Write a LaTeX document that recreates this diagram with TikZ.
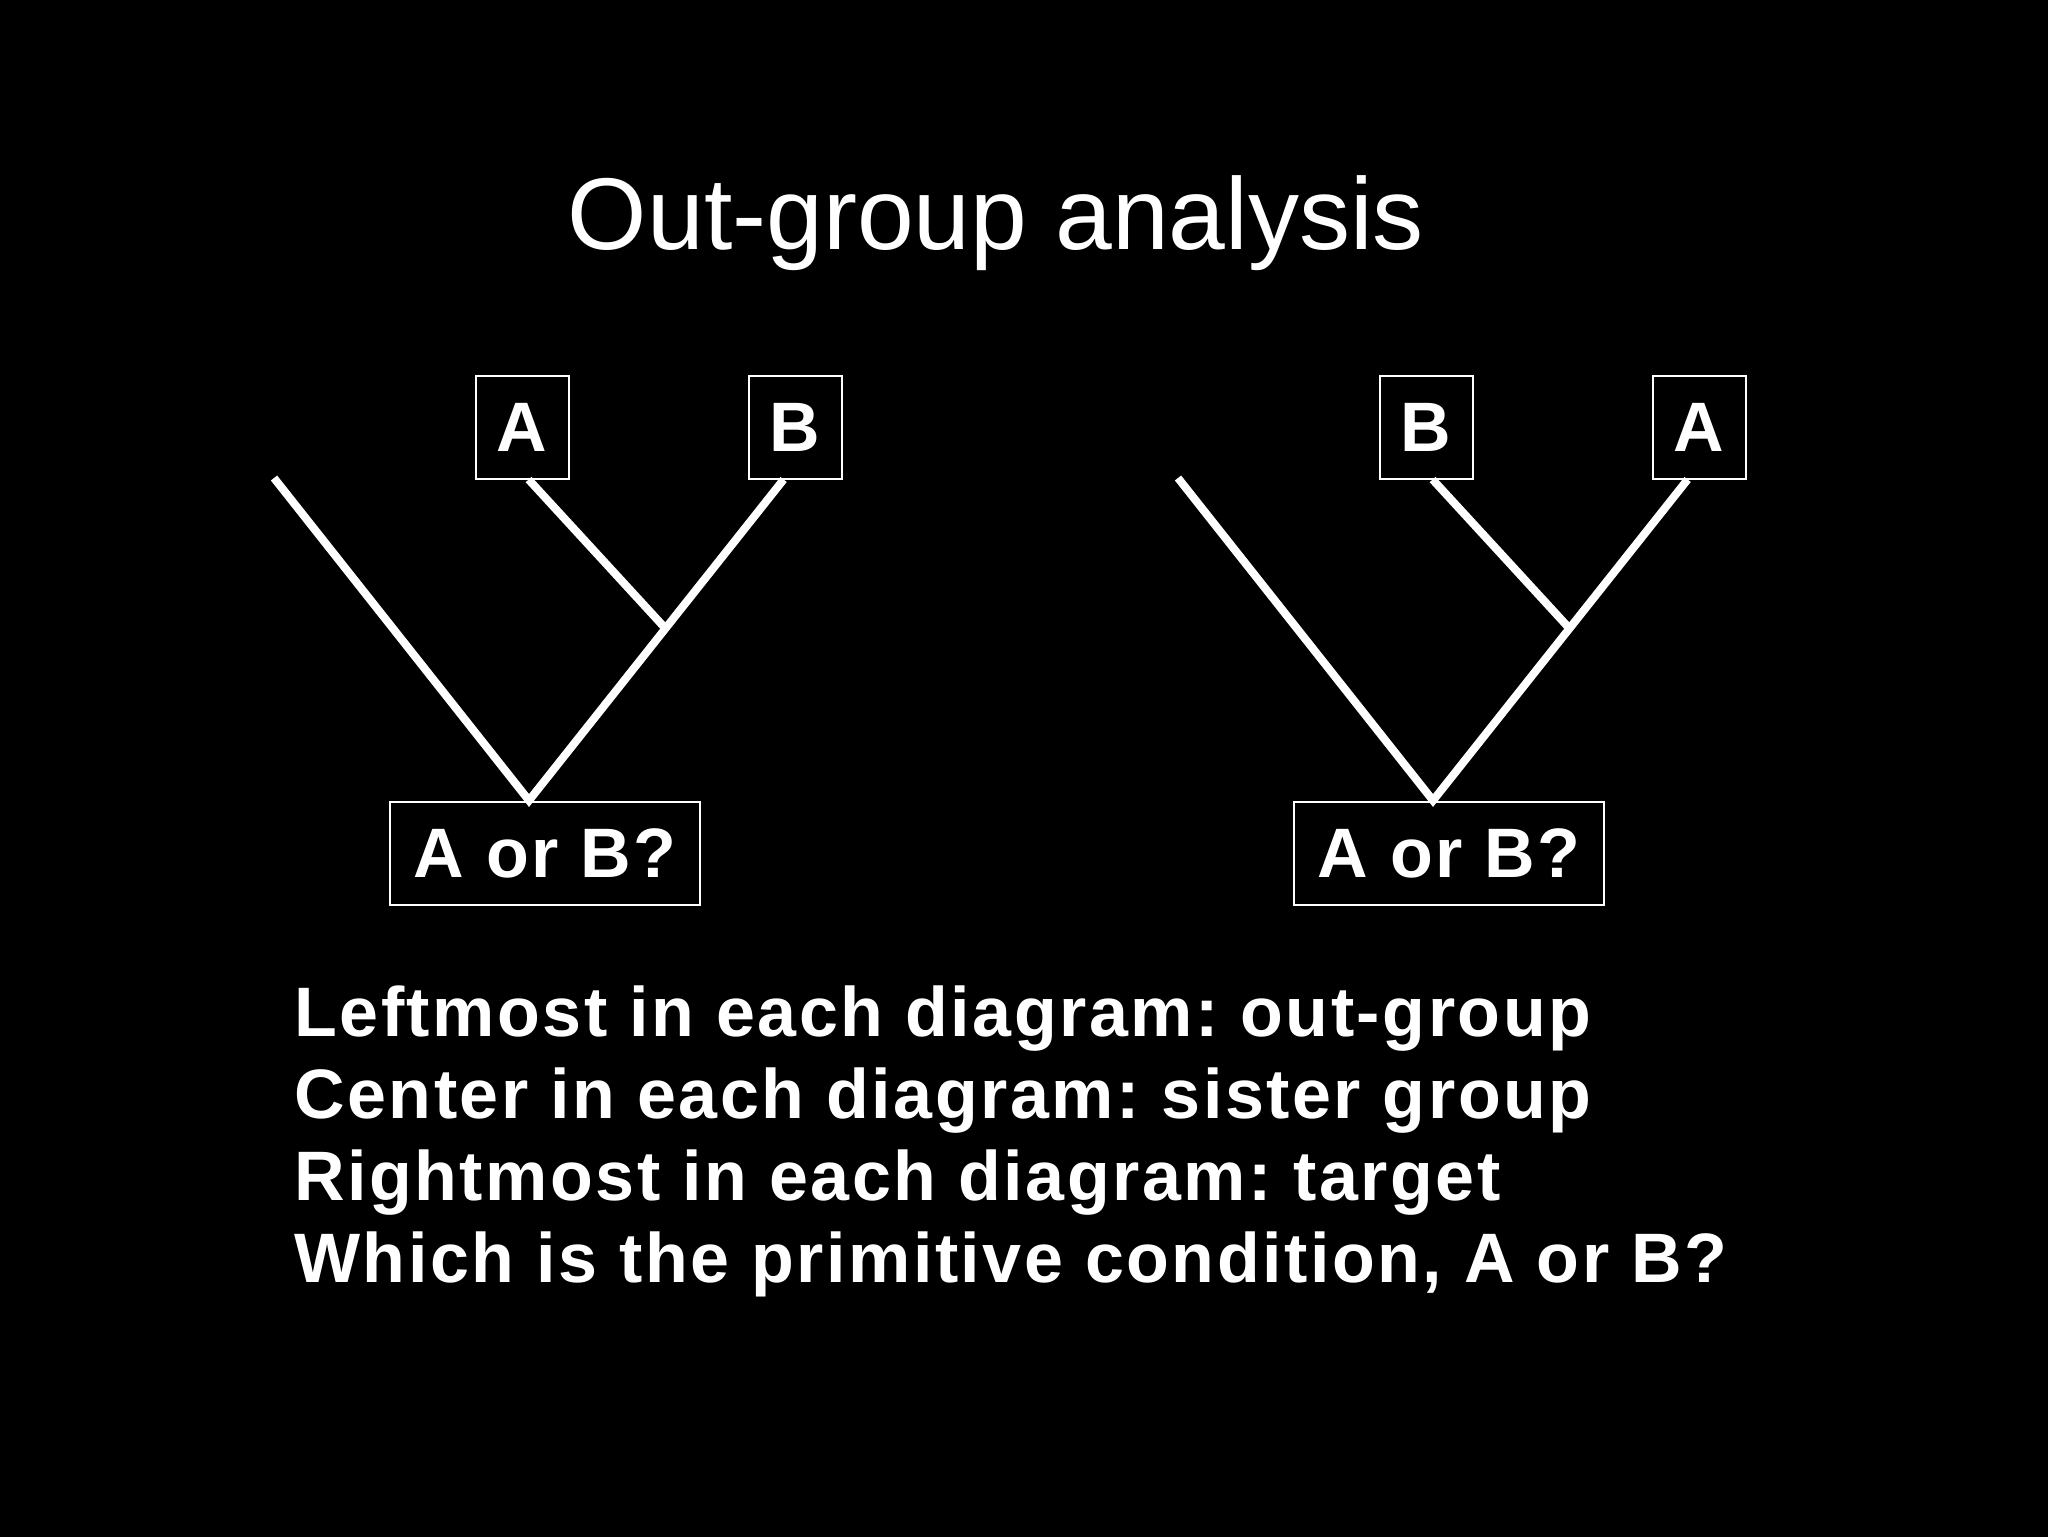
\documentclass[tikz,border=0pt]{standalone}
\usepackage{fontspec}
\setmainfont{Liberation Sans}
\usepackage{tikz}
\usetikzlibrary{calc}
\frenchspacing
\tikzset{
    title-text/.style = {text=white, anchor=base, inner sep=0pt, font=\fontsize{51}{51}\selectfont},
    taxon-box/.style = {draw=white, line width=1pt, rectangle, inner sep=0pt, minimum width=46.5pt, minimum height=51.5pt, text=white, font=\fontsize{35}{35}\selectfont\bfseries\addfontfeature{LetterSpace=3.6}},
    query-box/.style = {taxon-box, minimum width=155pt},
    branch/.style = {draw=white, line width=4pt},
    notes-text/.style = {text=white, anchor=north west, inner sep=0pt, align=left, font=\fontsize{35}{41}\selectfont\bfseries\addfontfeature{LetterSpace=3.6}},
}
\begin{document}
\begin{tikzpicture}[x=0.5pt, y=-0.5pt]
\useasboundingbox (0,0) rectangle (2048,1536);
\fill[black] (-10,-10) rectangle (2058,1546);

\node[title-text] (title) at (996,249) {Out-group analysis};

% left tree
\node[taxon-box] (a1) at (522,427) {A};
\node[taxon-box] (b1) at (795,427) {B};
\node[query-box] (q1) at (545,853) {A or B?};
\coordinate (out1) at (274,478);
\coordinate (root1) at ([xshift=-8pt]q1.north);
\coordinate (tip1) at ([xshift=-5.7pt]b1.south);
\coordinate (join1) at ($(root1)!0.536!(tip1)$);
\draw[branch] (out1) -- (root1) -- (tip1);
\draw[branch] ([xshift=3.3pt]a1.south) -- (join1);

% right tree
\node[taxon-box] (b2) at (1426,427) {B};
\node[taxon-box] (a2) at (1699,427) {A};
\node[query-box] (q2) at (1449,853) {A or B?};
\coordinate (out2) at (1178,478);
\coordinate (root2) at ([xshift=-8pt]q2.north);
\coordinate (tip2) at ([xshift=-5.7pt]a2.south);
\coordinate (join2) at ($(root2)!0.536!(tip2)$);
\draw[branch] (out2) -- (root2) -- (tip2);
\draw[branch] ([xshift=3.3pt]b2.south) -- (join2);

\node[notes-text] (notes) at (294,985) {Leftmost in each diagram: out-group\\
Center in each diagram: sister group\\
Rightmost in each diagram: target\\
Which is the primitive condition, A or B?};
\end{tikzpicture}
\end{document}
